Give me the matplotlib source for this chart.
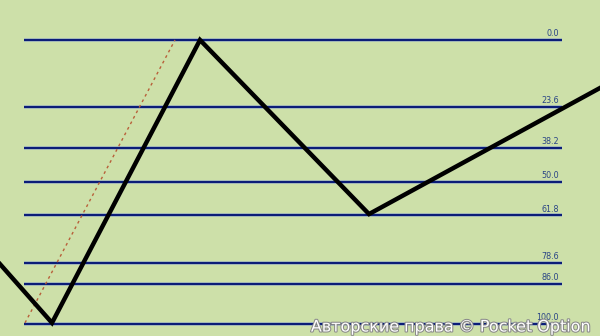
import matplotlib
matplotlib.use("Agg")
import matplotlib.pyplot as plt
import matplotlib.patheffects as pe

# Fibonacci retracement levels
levels = [0.0, 23.6, 38.2, 50.0, 61.8, 78.6, 86.0, 100.0]
level_labels = ["0.0", "23.6", "38.2", "50.0", "61.8", "78.6", "86.0", "100.0"]

# Price zigzag (x, level units)
zig_x = [0, 52, 200, 369, 600]
zig_y = [78.9, 99.6, 0.0, 61.3, 16.9]

# Trend (dotted) line
trend_x = [25, 175]
trend_y = [99.6, 0.0]

bg = "#cde0a9"
fig = plt.figure(figsize=(6.0, 3.36), dpi=100, facecolor=bg)
ax = fig.add_axes([0, 0, 1, 1], facecolor=bg)
ax.set_xlim(0, 600)
# pixel 0 -> level -14.08, pixel 336 -> level 104.23
ax.set_ylim(104.23, -14.08)
ax.axis("off")

for lv, lab in zip(levels, level_labels):
    ax.plot([24, 562], [lv, lv], color="#0b1d78", lw=1.6, solid_capstyle="butt", zorder=2,
            path_effects=[pe.Stroke(linewidth=2.6, foreground="#9fb8d8", alpha=0.6), pe.Normal()])
    ax.text(559, lv - 0.7, lab, ha="right", va="bottom", fontsize=5.8,
            color="#2a4585", family="DejaVu Sans", zorder=3)

ax.plot(trend_x, trend_y, color="#b8603a", lw=1.0, ls=(0, (2, 2.5)), zorder=3)
ax.plot(zig_x, zig_y, color="black", lw=3.2, solid_joinstyle="miter", zorder=4)

ax.text(592, 103.7, "Авторские права © Pocket Option", ha="right", va="bottom",
        fontsize=11.5, color="white", family="DejaVu Sans", zorder=5,
        path_effects=[pe.Stroke(linewidth=1.5, foreground="#8a8a8a"), pe.Normal()])

fig.savefig("out.png", dpi=100, facecolor=bg)
